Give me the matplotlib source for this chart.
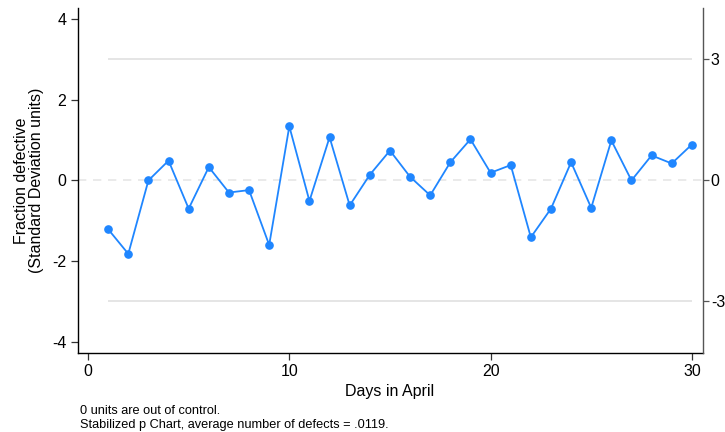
import matplotlib
matplotlib.use("Agg")
import matplotlib.pyplot as plt

days = list(range(1, 31))
values = [-1.21, -1.82, 0.00, 0.49, -0.70, 0.33, -0.30, -0.24, -1.60, 1.34,
          -0.51, 1.07, -0.62, 0.14, 0.74, 0.09, -0.37, 0.45, 1.02, 0.19,
          0.38, -1.41, -0.70, 0.45, -0.68, 0.99, 0.00, 0.62, 0.42, 0.89]
left_ticks = [-4, -2, 0, 2, 4]
right_ticks = [-3, 0, 3]
x_ticks = [0, 10, 20, 30]
control_limits = [-3, 3]

plt.rcParams['font.family'] = ['Liberation Sans', 'DejaVu Sans']
plt.rcParams['axes.unicode_minus'] = False

fig = plt.figure(figsize=(7.25, 4.32), dpi=100)
ax = fig.add_axes([0.107, 0.1836, 0.862, 0.7975])

ax.axhline(0, color='#e6e6e6', lw=1.2, ls=(0, (5, 4)), zorder=1)
for lim in control_limits:
    ax.hlines(lim, days[0], days[-1], color='#e0e0e0', lw=1.2, zorder=1)

ax.plot(days, values, color='#1f86ff', lw=1.3, marker='o', markersize=5.2, zorder=3)

ax.set_xlim(-0.52, 30.53)
ax.set_ylim(-4.27, 4.27)
ax.set_xticks(x_ticks)
ax.set_yticks(left_ticks)
ax.tick_params(axis='both', labelsize=11.5, length=5, width=0.9, color='#333333', pad=3)
ax.spines['top'].set_visible(False)
ax.spines['right'].set_visible(False)
ax.spines['left'].set_linewidth(1.0)
ax.spines['bottom'].set_linewidth(1.0)

ax.set_xlabel('Days in April', fontsize=11.5, labelpad=4)
ax.set_ylabel('Fraction defective\n(Standard Deviation units)', fontsize=11.5, labelpad=6,
              linespacing=1.0)

ax2 = ax.twinx()
ax2.set_ylim(ax.get_ylim())
ax2.set_yticks(right_ticks)
ax2.tick_params(axis='y', labelsize=11.5, length=4, width=0.9, color='#555555', pad=2)
ax2.spines['top'].set_visible(False)
ax2.spines['left'].set_visible(False)
ax2.spines['bottom'].set_visible(False)
ax2.spines['right'].set_color('#555555')
ax2.spines['right'].set_linewidth(1.0)

fig.text(0.110, 0.033, '0 units are out of control.\nStabilized p Chart, average number of defects = .0119.',
         fontsize=9.2, ha='left', va='center', linespacing=1.25)

fig.savefig('out.png', dpi=100)
